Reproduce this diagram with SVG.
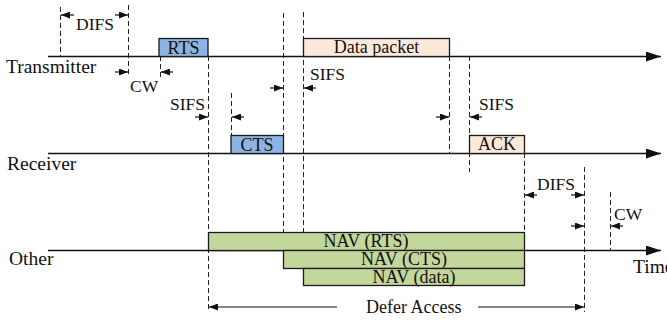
<svg xmlns="http://www.w3.org/2000/svg" width="667" height="322" viewBox="0 0 667 322">
<style>
text{font-family:"Liberation Serif","Times New Roman",serif;font-size:18px;fill:#111}
.lbl{font-size:19.5px}
.iv{font-size:17.5px}
.mid{text-anchor:middle}
.axis{stroke:#111;stroke-width:1.4;fill:none}
.dash{stroke:#222;stroke-width:1;stroke-dasharray:5,3;fill:none}
.arr{stroke:#111;stroke-width:1.2;fill:none;marker-end:url(#ah)}
.blue{fill:#8db3e2;stroke:#1a1a1a;stroke-width:1.3}
.peach{fill:#fde9d9;stroke:#1a1a1a;stroke-width:1.3}
.green{fill:#c3d69b;stroke:#1a1a1a;stroke-width:1.3}
</style>
<defs>
<marker id="ah" viewBox="0 0 9 7" refX="9" refY="3.5" markerWidth="9" markerHeight="7" markerUnits="userSpaceOnUse" orient="auto"><path d="M0,0 L9,3.5 L0,7 z" fill="#111"/></marker>
<marker id="big" viewBox="0 0 15 10" refX="15" refY="5" markerWidth="15" markerHeight="10" markerUnits="userSpaceOnUse" orient="auto"><path d="M0,0 L15,5 L0,10 z" fill="#111"/></marker>
</defs>

<g id="connectors">
<!-- time axes -->
<line class="axis" x1="48" y1="56.5" x2="661" y2="56.5" marker-end="url(#big)"/>
<line class="axis" x1="48" y1="153.5" x2="661" y2="153.5" marker-end="url(#big)"/>
<line class="axis" x1="48" y1="250.5" x2="661" y2="250.5" marker-end="url(#big)"/>
<!-- dashed guides -->
<line class="dash" x1="60.5" y1="7" x2="60.5" y2="56"/>
<line class="dash" x1="128.5" y1="5" x2="128.5" y2="77"/>
<line class="dash" x1="160.5" y1="56" x2="160.5" y2="77"/>
<line class="dash" x1="208.5" y1="56" x2="208.5" y2="312"/>
<line class="dash" x1="231.5" y1="93" x2="231.5" y2="153"/>
<line class="dash" x1="283.5" y1="13" x2="283.5" y2="232"/>
<line class="dash" x1="303.5" y1="12" x2="303.5" y2="232"/>
<line class="dash" x1="449.5" y1="56" x2="449.5" y2="153"/>
<line class="dash" x1="469.5" y1="56" x2="469.5" y2="172"/>
<line class="dash" x1="524.5" y1="153" x2="524.5" y2="232"/>
<line class="dash" x1="584.5" y1="167" x2="584.5" y2="312"/>
<line class="dash" x1="610.5" y1="192" x2="610.5" y2="250"/>
<!-- interval arrows -->
<line class="arr" x1="74" y1="15" x2="61" y2="15"/>
<line class="arr" x1="115" y1="15" x2="128" y2="15"/>
<line class="arr" x1="115" y1="72" x2="128" y2="72"/>
<line class="arr" x1="173" y1="72" x2="161" y2="72"/>
<line class="arr" x1="195" y1="117" x2="208" y2="117"/>
<line class="arr" x1="244" y1="117" x2="232" y2="117"/>
<line class="arr" x1="270" y1="88" x2="283" y2="88"/>
<line class="arr" x1="316" y1="88" x2="304" y2="88"/>
<line class="arr" x1="436" y1="117" x2="449" y2="117"/>
<line class="arr" x1="482" y1="117" x2="470" y2="117"/>
<line class="arr" x1="537" y1="195" x2="525" y2="195"/>
<line class="arr" x1="571" y1="195" x2="584" y2="195"/>
<line class="arr" x1="571" y1="226" x2="584" y2="226"/>
<line class="arr" x1="623" y1="226" x2="611" y2="226"/>
<line class="arr" x1="337" y1="307" x2="209" y2="307"/>
<line class="arr" x1="478" y1="307" x2="584" y2="307"/>
</g>

<g id="labels">
<text class="lbl" x="6" y="73">Transmitter</text>
<text class="lbl" x="7" y="170">Receiver</text>
<text class="lbl" x="9" y="265">Other</text>
<text class="lbl" x="633" y="273">Time</text>
<text class="iv" x="76" y="30">DIFS</text>
<text class="iv" x="130" y="92">CW</text>
<text class="iv" x="170" y="110">SIFS</text>
<text class="iv" x="310" y="80">SIFS</text>
<text class="iv" x="479" y="110">SIFS</text>
<text class="iv" x="537" y="190">DIFS</text>
<text class="iv" x="614" y="220">CW</text>
<text x="366" y="313" font-size="19">Defer Access</text>
</g>

<g id="rts"><rect class="blue" x="159" y="38.5" width="49" height="18"/><text class="mid" x="183.5" y="54">RTS</text></g>
<g id="data"><rect class="peach" x="303.5" y="38.5" width="146" height="18"/><text class="mid" x="376.5" y="53">Data packet</text></g>
<g id="cts"><rect class="blue" x="231" y="135.5" width="52.5" height="18"/><text class="mid" x="257" y="151">CTS</text></g>
<g id="ack"><rect class="peach" x="469.5" y="135.5" width="55" height="18"/><text class="mid" x="497" y="150">ACK</text></g>
<g id="nav-rts"><rect class="green" x="208.5" y="232.5" width="316" height="18"/><text class="mid" x="366" y="247">NAV (RTS)</text></g>
<g id="nav-cts"><rect class="green" x="283.5" y="250.5" width="241" height="18"/><text class="mid" x="404" y="265">NAV (CTS)</text></g>
<g id="nav-data"><rect class="green" x="303.5" y="268.5" width="221" height="17"/><text class="mid" x="414" y="283">NAV (data)</text></g>
</svg>
